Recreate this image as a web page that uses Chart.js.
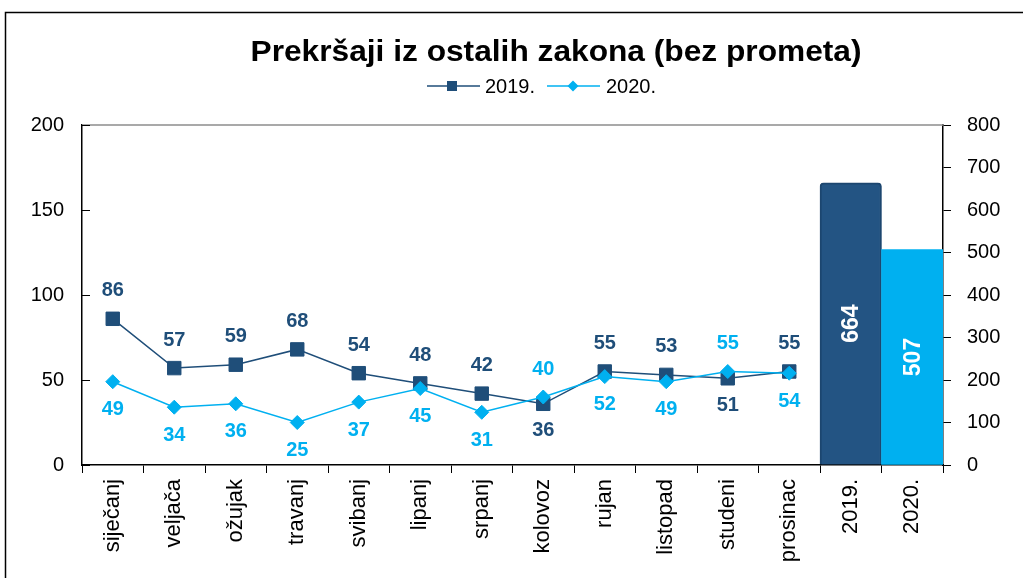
<!DOCTYPE html>
<html>
<head>
<meta charset="utf-8">
<script src="https://cdn.jsdelivr.net/npm/chart.js@4/dist/chart.umd.min.js"></script>
<style>
  html, body { margin: 0; padding: 0; background: #fff; }
</style>
</head>
<body>
<canvas id="chart" width="1023" height="578"></canvas>
<script>
const categories = ['siječanj', 'veljača', 'ožujak', 'travanj', 'svibanj', 'lipanj', 'srpanj',
    'kolovoz', 'rujan', 'listopad', 'studeni', 'prosinac', '2019.', '2020.'];
const values2019 = [86, 57, 59, 68, 54, 48, 42, 36, 55, 53, 51, 55];
const values2020 = [49, 34, 36, 25, 37, 45, 31, 40, 52, 49, 55, 54];
const yearTotals = [664, 507];
const leftTicks = [0, 50, 100, 150, 200];
const rightTicks = [0, 100, 200, 300, 400, 500, 600, 700, 800];

const DARK = '#1F4E79';
const LIGHT = '#00B0F0';
const FONT = '"Liberation Sans", Arial, sans-serif';

// pad month series with gaps under the two year bars
const lineData2019 = values2019.concat([null, null]);
const lineData2020 = values2020.concat([null, null]);
const barData = values2019.map(() => null).concat(yearTotals);

const decor = {
    id: 'decor',
    beforeDraw(chart) {
        const ctx = chart.ctx;
        ctx.save();
        ctx.fillStyle = '#fff';
        ctx.fillRect(0, 0, chart.width, chart.height);
        ctx.strokeStyle = '#000';
        ctx.lineWidth = 1.5;
        ctx.strokeRect(5.5, 12.5, chart.width + 20, chart.height + 20);
        ctx.restore();
    },
    afterDraw(chart) {
        const ctx = chart.ctx;
        const area = chart.chartArea;
        const yScale = chart.scales.y;
        ctx.save();

        // top edge of plot area
        ctx.strokeStyle = '#8c8c8c';
        ctx.lineWidth = 1.5;
        ctx.beginPath();
        ctx.moveTo(area.left, area.top);
        ctx.lineTo(area.right, area.top);
        ctx.stroke();

        // left axis ticks point inwards
        ctx.strokeStyle = '#000';
        ctx.lineWidth = 1;
        leftTicks.forEach(v => {
            const y = Math.round(yScale.getPixelForValue(v)) + 0.5;
            ctx.beginPath();
            ctx.moveTo(area.left, y);
            ctx.lineTo(area.left + 8, y);
            ctx.stroke();
        });

        // title, a little wider than plain Arial bold
        const title = 'Prekršaji iz ostalih zakona (bez prometa)';
        ctx.fillStyle = '#000';
        ctx.font = 'bold 29px ' + FONT;
        ctx.textAlign = 'center';
        ctx.textBaseline = 'middle';
        const sx = 611 / ctx.measureText(title).width;
        ctx.save();
        ctx.translate(556, 53);
        ctx.scale(sx, 1);
        ctx.fillText(title, 0, 0);
        ctx.restore();

        // legend
        ctx.font = '20px ' + FONT;
        ctx.textAlign = 'left';
        ctx.lineWidth = 1.5;
        ctx.strokeStyle = DARK;
        ctx.beginPath();
        ctx.moveTo(427, 86);
        ctx.lineTo(480, 86);
        ctx.stroke();
        ctx.fillStyle = DARK;
        ctx.fillRect(447, 81, 10, 10);
        ctx.fillStyle = '#000';
        ctx.fillText('2019.', 485, 87);

        ctx.strokeStyle = LIGHT;
        ctx.beginPath();
        ctx.moveTo(547, 86);
        ctx.lineTo(600, 86);
        ctx.stroke();
        ctx.fillStyle = LIGHT;
        ctx.beginPath();
        ctx.moveTo(573, 80.5);
        ctx.lineTo(578.5, 86);
        ctx.lineTo(573, 91.5);
        ctx.lineTo(567.5, 86);
        ctx.closePath();
        ctx.fill();
        ctx.fillStyle = '#000';
        ctx.fillText('2020.', 606, 87);

        // point labels: the larger value of a month above, the smaller below
        const pts19 = chart.getDatasetMeta(0).data;
        const pts20 = chart.getDatasetMeta(1).data;
        ctx.font = 'bold 20px ' + FONT;
        ctx.textAlign = 'center';
        ctx.textBaseline = 'middle';
        for (let i = 0; i < values2019.length; i++) {
            const up19 = values2019[i] >= values2020[i];
            ctx.fillStyle = DARK;
            ctx.fillText(String(values2019[i]), pts19[i].x, pts19[i].y + (up19 ? -28 : 27));
            ctx.fillStyle = LIGHT;
            ctx.fillText(String(values2020[i]), pts20[i].x, pts20[i].y + (up19 ? 28 : -28));
        }

        // bar labels, rotated, centred in the bar
        const bars = chart.getDatasetMeta(2).data;
        ctx.fillStyle = '#fff';
        ctx.font = 'bold 23px ' + FONT;
        yearTotals.forEach((v, k) => {
            const bar = bars[values2019.length + k];
            ctx.save();
            ctx.translate(bar.x, (bar.y + bar.base) / 2);
            ctx.rotate(-Math.PI / 2);
            ctx.fillText(String(v), 0, 1);
            ctx.restore();
        });

        ctx.restore();
    }
};

function initializeChart() {
    const canvas = document.getElementById('chart');

    const data = {
        labels: categories,
        datasets: [{
            type: 'line',
            label: '2019.',
            data: lineData2019,
            yAxisID: 'y',
            borderColor: DARK,
            borderWidth: 1.5,
            pointStyle: 'rect',
            pointRadius: 9.5,
            pointBackgroundColor: DARK,
            pointBorderColor: DARK,
            pointBorderWidth: 1,
            order: 1
        }, {
            type: 'line',
            label: '2020.',
            data: lineData2020,
            yAxisID: 'y',
            borderColor: LIGHT,
            borderWidth: 1.5,
            pointStyle: 'rectRot',
            pointRadius: 7,
            pointBackgroundColor: LIGHT,
            pointBorderColor: LIGHT,
            pointBorderWidth: 1,
            order: 0
        }, {
            type: 'bar',
            label: 'ukupno',
            data: barData,
            yAxisID: 'y1',
            backgroundColor: barData.map((v, i) => i === 12 ? '#235483' : LIGHT),
            borderColor: '#1C466F',
            borderWidth: barData.map((v, i) => i === 12 ? 2 : 0),
            borderRadius: barData.map((v, i) => i === 12 ? 4 : 0),
            barPercentage: 1,
            categoryPercentage: 1,
            order: 2
        }]
    };

    const options = {
        responsive: false,
        animation: false,
        layout: {
            padding: { top: 125, left: 0, right: 0, bottom: 0 }
        },
        plugins: {
            legend: { display: false },
            title: { display: false },
            tooltip: { enabled: false }
        },
        scales: {
            x: {
                type: 'category',
                offset: true,
                grid: {
                    offset: true,
                    drawOnChartArea: false,
                    tickLength: 8,
                    color: '#000'
                },
                border: { color: '#000', width: 1.5 },
                ticks: {
                    minRotation: 90,
                    maxRotation: 90,
                    autoSkip: false,
                    color: '#000',
                    padding: 6,
                    font: { size: 22, family: FONT }
                },
                afterFit(scale) { scale.height = 113; }
            },
            y: {
                position: 'left',
                min: 0,
                max: 200,
                grid: { drawOnChartArea: false, drawTicks: false },
                border: { color: '#000', width: 1.5 },
                ticks: {
                    stepSize: 50,
                    color: '#000',
                    padding: 18,
                    font: { size: 20, family: FONT }
                },
                afterFit(scale) { scale.width = 82; }
            },
            y1: {
                position: 'right',
                min: 0,
                max: 800,
                grid: { drawOnChartArea: false, tickLength: 8, color: '#000' },
                border: { color: '#000', width: 1.5 },
                ticks: {
                    stepSize: 100,
                    color: '#000',
                    padding: 16,
                    font: { size: 20, family: FONT }
                },
                afterFit(scale) { scale.width = 80; }
            }
        }
    };

    new Chart(canvas, {
        type: 'bar',
        data: data,
        options: options,
        plugins: [decor]
    });
}

window.addEventListener('load', initializeChart);
</script>
</body>
</html>
